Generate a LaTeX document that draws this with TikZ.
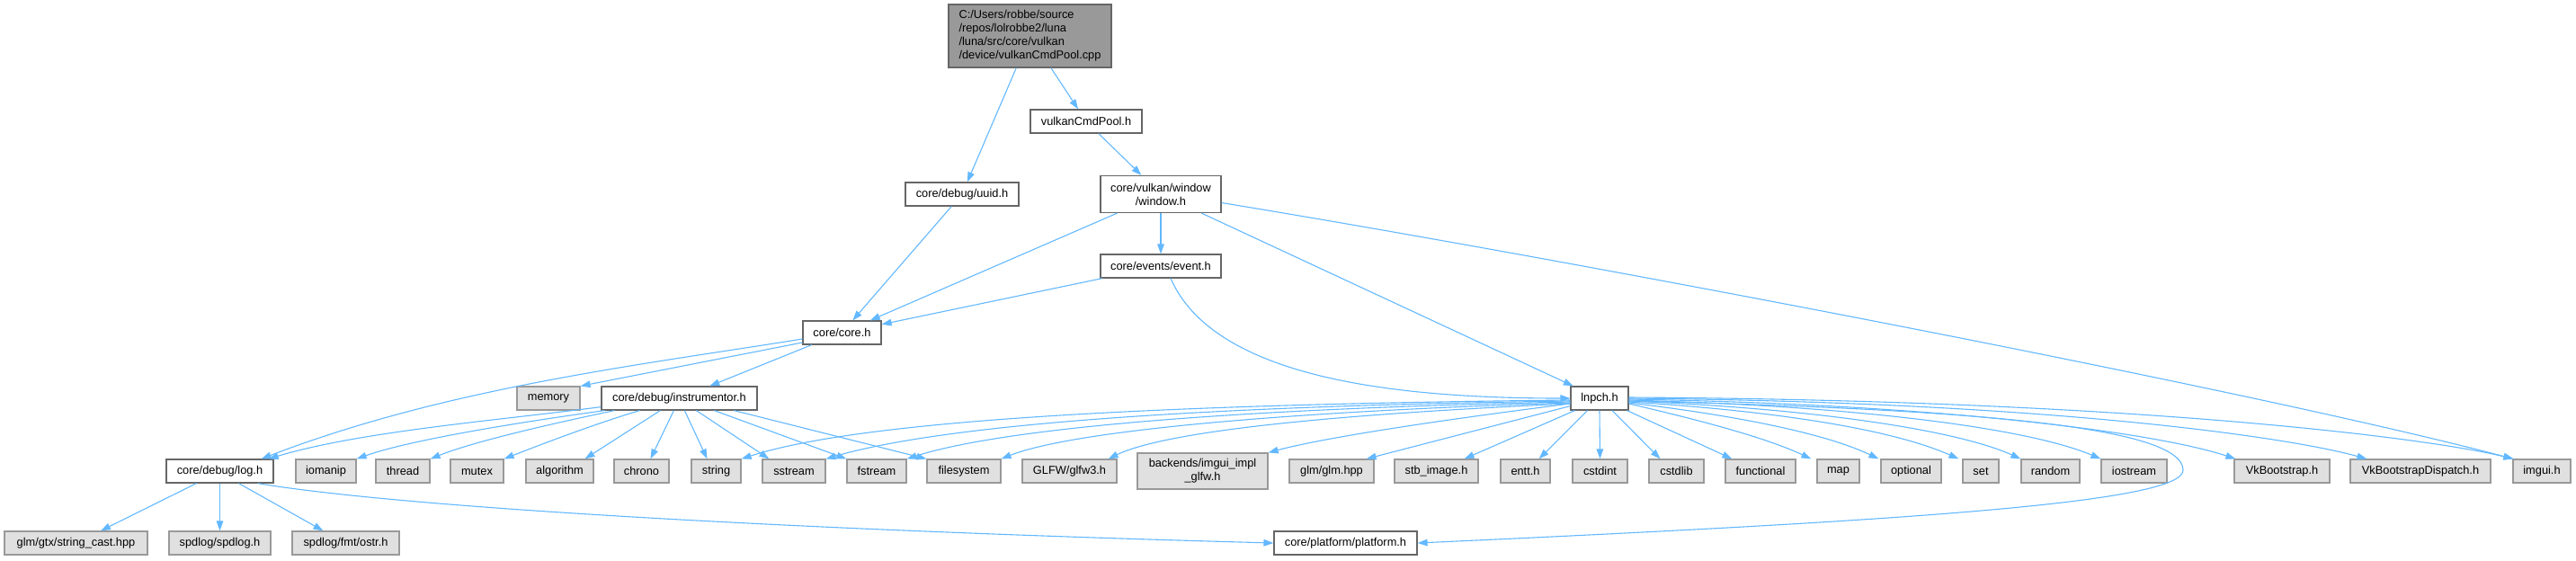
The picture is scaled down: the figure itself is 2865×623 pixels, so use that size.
\documentclass[tikz,border=0pt]{standalone}
\usepackage{fontspec}
\setmainfont{Liberation Sans}
\usetikzlibrary{arrows.meta}
\definecolor{steel}{HTML}{63B8FF}
\definecolor{bplain}{HTML}{666666}
\definecolor{bext}{HTML}{999999}
\definecolor{fext}{HTML}{E0E0E0}
\definecolor{froot}{HTML}{999999}
\tikzset{
  basebox/.style={rectangle, inner sep=0pt, line width=0.6pt, minimum height=13pt,
    font=\fontsize{6.4pt}{7.5pt}\selectfont, align=center},
  plain/.style={basebox, draw=bplain, fill=white},
  ext/.style={basebox, draw=bext, fill=fext},
  rootbox/.style={basebox, draw=bplain, fill=froot, align=left},
  bw/.style={minimum width=#1*0.5pt},
  bh/.style={minimum height=#1*0.5pt},
  dep/.style={draw=steel, line width=0.55pt, -{Triangle[length=5.5pt,width=3.8pt]}},
}
\begin{document}
\begin{tikzpicture}[x=0.5pt,y=-0.5pt]
\useasboundingbox (0,0) rectangle (2865,623);
% top part
\node[rootbox,bw=181,bh=70] (root) at (1145.5,40) {C:/Users/robbe/source\\/repos/lolrobbe2/luna\\/luna/src/core/vulkan\\/device/vulkanCmdPool.cpp};
\node[plain,bw=124] (vcp) at (1208,135) {vulkanCmdPool.h};
\node[plain,bw=126] (uuid) at (1070,216) {core/debug/uuid.h};
\node[plain,bw=134,bh=41] (window) at (1291,216) {core/vulkan/window\\/window.h};
\node[plain,bw=134] (event) at (1291,296) {core/events/event.h};
\node[plain,bw=87] (core) at (936.5,370) {core/core.h};
\node[ext,bw=70] (memory) at (610,443) {memory};
\node[plain,bw=173] (instr) at (755.5,443) {core/debug/instrumentor.h};
\node[plain,bw=64] (lnpch) at (1779,443) {lnpch.h};
% middle row
\node[plain,bw=119] (log) at (244.5,524) {core/debug/log.h};
\node[ext,bw=67] (iomanip) at (362.5,524) {iomanip};
\node[ext,bw=60] (thread) at (448,524) {thread};
\node[ext,bw=59] (mutex) at (530.5,524) {mutex};
\node[ext,bw=75] (algorithm) at (622.5,524) {algorithm};
\node[ext,bw=61] (chrono) at (713.5,524) {chrono};
\node[ext,bw=55] (string) at (796.5,524) {string};
\node[ext,bw=70] (sstream) at (883,524) {sstream};
\node[ext,bw=66] (fstream) at (975,524) {fstream};
\node[ext,bw=82] (filesystem) at (1072,524) {filesystem};
\node[ext,bw=105] (glfw) at (1189.5,524) {GLFW/glfw3.h};
\node[ext,bw=145,bh=40] (backends) at (1337.5,524) {backends/imgui\_impl\\\_glfw.h};
\node[ext,bw=94] (glm) at (1481,524) {glm/glm.hpp};
\node[ext,bw=93] (stb) at (1597.5,524) {stb\_image.h};
\node[ext,bw=55] (entt) at (1696.5,524) {entt.h};
\node[ext,bw=61] (cstdint) at (1779.5,524) {cstdint};
\node[ext,bw=61] (cstdlib) at (1864.5,524) {cstdlib};
\node[ext,bw=78] (functional) at (1958,524) {functional};
\node[ext,bw=47] (map) at (2044.5,524) {map};
\node[ext,bw=67] (optional) at (2125.5,524) {optional};
\node[ext,bw=40] (set) at (2203,524) {set};
\node[ext,bw=65] (random) at (2280.5,524) {random};
\node[ext,bw=73] (iostream) at (2373.5,524) {iostream};
\node[ext,bw=106] (vkb) at (2538,524) {VkBootstrap.h};
\node[ext,bw=156] (vkbd) at (2692,524) {VkBootstrapDispatch.h};
\node[ext,bw=64] (imgui) at (2827,524) {imgui.h};
% bottom row
\node[ext,bw=159] (strcast) at (84.5,604) {glm/gtx/string\_cast.hpp};
\node[ext,bw=113] (spdlog) at (244.5,604) {spdlog/spdlog.h};
\node[ext,bw=119] (ostr) at (384.5,604) {spdlog/fmt/ostr.h};
\node[plain,bw=159] (platform) at (1496.5,604) {core/platform/platform.h};
\coordinate (loop) at (2428,523);

% edges top
\draw[dep] (root) -- (uuid);
\draw[dep] (root) -- (vcp);
\draw[dep] (vcp) -- (window);
\draw[dep] (uuid) -- (core);
\draw[dep] (window) -- (core);
\draw[dep] (window) -- (event);
\draw[dep] (window) -- (lnpch);
\draw[dep] (window.-8) .. controls (1758,291) and (2496,432) .. ([xshift=0.5pt]imgui.north west);
\draw[dep] (event) -- (core);
\draw[dep] ([xshift=5.5pt]event.south) .. controls (1350,420) and (1550,443) .. (lnpch.west);
\draw[dep] ([yshift=-3.5pt]core.west) .. controls (720,405) and (500,430) .. ([xshift=-7pt]log.north east);
\draw[dep] ([yshift=-5.5pt]core.west) -- (memory.north east);
\draw[dep] (core) -- (instr);

% instrumentor edges
\draw[dep] ([yshift=2pt]instr.south west) .. controls (550,468) and (400,480) .. ([xshift=-3pt]log.north east);
\draw[dep] ([xshift=2pt]instr.south west) .. controls (590,468) and (460,488) .. (iomanip.north east);
\draw[dep] ([xshift=7.5pt]instr.south west) .. controls (620,470) and (530,490) .. (thread.north east);
\draw[dep] ([xshift=21.5pt]instr.south west) .. controls (660,472) and (600,495) .. (mutex.north east);
\draw[dep] ([xshift=33pt]instr.south west) -- ([xshift=14pt]algorithm.north);
\draw[dep] ([xshift=40.5pt]instr.south west) -- ([xshift=5pt]chrono.north);
\draw[dep] ([xshift=46.5pt]instr.south west) -- ([xshift=-5pt]string.north);
\draw[dep] ([xshift=53pt]instr.south west) -- ([xshift=4pt]sstream.north west);
\draw[dep] ([xshift=63pt]instr.south west) -- (fstream.north west);
\draw[dep] ([xshift=74pt]instr.south west) -- (filesystem.north west);

% log edges
\draw[dep] ([xshift=-13pt]log.south) -- ([xshift=13.75pt]strcast.north);
\draw[dep] (log.south) -- (spdlog.north);
\draw[dep] ([xshift=10.5pt]log.south) -- ([xshift=-12.5pt]ostr.north);
\draw[dep] ([xshift=-9pt]log.south east) .. controls (450,565) and (900,590) .. (platform.west);

% lnpch left edges
\draw[dep] ([yshift=-1pt]lnpch.west) .. controls (1250,450) and (950,470) .. (string.north east);
\draw[dep] ([yshift=-1.5pt]lnpch.west) .. controls (1300,452) and (1040,475) .. (sstream.north east);
\draw[dep] ([yshift=-2pt]lnpch.west) .. controls (1350,455) and (1110,478) .. (fstream.north east);
\draw[dep] ([yshift=-2.5pt]lnpch.west) .. controls (1420,458) and (1190,480) .. (filesystem.north east);
\draw[dep] ([yshift=-3pt]lnpch.west) .. controls (1500,460) and (1300,478) .. ([xshift=-5pt]glfw.north east);
\draw[dep] ([yshift=-3pt]lnpch.west) .. controls (1620,465) and (1480,485) .. (backends.north east);
\draw[dep] ([yshift=2.5pt]lnpch.south west) -- ([xshift=-4.5pt]glm.north east);
\draw[dep] ([xshift=2.5pt]lnpch.south west) -- ([xshift=-8pt]stb.north east);
\draw[dep] ([xshift=9.5pt]lnpch.south west) -- ([xshift=-6.5pt]entt.north east);
\draw[dep] (lnpch.south) -- (cstdint.north);
\draw[dep] ([xshift=7pt]lnpch.south) -- ([xshift=-9pt]cstdlib.north);
\draw[dep] ([xshift=-1pt]lnpch.south east) -- ([xshift=4pt]functional.north west);

% lnpch right edges
\draw[dep] ([yshift=-3pt]lnpch.east) .. controls (1880,465) and (1960,485) .. ([xshift=-3pt]map.north west);
\draw[dep] ([yshift=-2.5pt]lnpch.east) .. controls (1930,462) and (2030,482) .. ([xshift=-1pt]optional.north west);
\draw[dep] ([yshift=-2pt]lnpch.east) .. controls (1990,458) and (2110,480) .. ([xshift=-2pt]set.north west);
\draw[dep] ([yshift=-1.5pt]lnpch.east) .. controls (2030,455) and (2180,480) .. (random.north west);
\draw[dep] ([yshift=-1pt]lnpch.east) .. controls (2080,452) and (2260,478) .. (iostream.north west);
\draw[dep] ([yshift=-0.5pt]lnpch.east) .. controls (2170,450) and (2400,482) .. ([xshift=1pt]vkb.north west);
\draw[dep] (lnpch.east) .. controls (2270,447) and (2540,485) .. ([xshift=9.5pt]vkbd.north west);
\draw[dep] ([yshift=0.5pt]lnpch.east) .. controls (2370,445) and (2700,487) .. ([xshift=0.5pt]imgui.north west);
\draw[draw=steel, line width=0.55pt] ([yshift=-1.5pt]lnpch.east) .. controls (2200,455) and (2428,475) .. (loop);
\draw[dep] (loop) .. controls (2428,560) and (2100,580) .. (platform.east);
\end{tikzpicture}
\end{document}
